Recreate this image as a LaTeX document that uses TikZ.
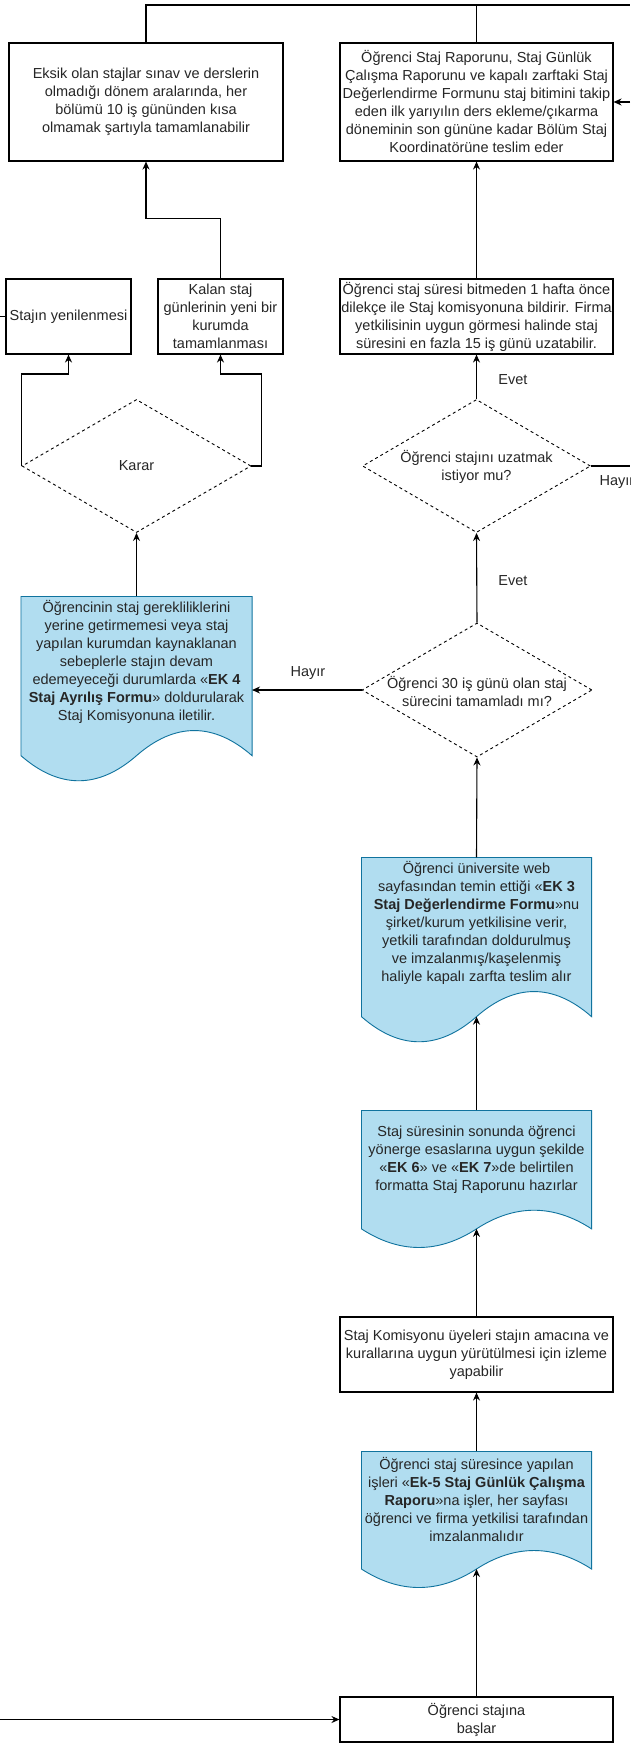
\documentclass[tikz,border=0pt]{standalone}
\usepackage{fontspec}
\setmainfont{Liberation Sans}
\usetikzlibrary{arrows.meta,shapes}
\definecolor{belgemavi}{HTML}{B1DDF0}
\definecolor{belgekenar}{HTML}{10739E}
\tikzstyle{akisstil}=[
    x=1pt, y=-1pt,
    >={Stealth[length=8pt,width=7pt]},
    line width=1.1pt,
    font=\fontsize{14.5pt}{18pt}\selectfont,
    text=black!85,
]
\tikzstyle{kutu}=[draw, rectangle, inner sep=0pt, align=center]
\tikzstyle{karar}=[draw, diamond, inner sep=0pt, line width=0.9pt,
    dash pattern=on 3pt off 3pt]
\tikzstyle{yazi}=[inner sep=0pt, align=center]
\tikzstyle{belgealan}=[rectangle, inner sep=0pt]
\tikzstyle{belgestil}=[fill=belgemavi, draw=belgekenar, line width=0.9pt]
% belge: ad, orta x, ust y, genislik, yukseklik, metin
\newcommand{\belge}[6]{%
    \node[belgealan, minimum width=#4, minimum height=0.85*#5] (#1) at (#2, #3+0.425*#5) {};
    \filldraw[belgestil] (#1.north west) -- (#1.north east) -- (#1.south east)
        .. controls +(-#4/6, -0.18*#5) and +(#4/6, -0.18*#5) .. (#1.south)
        .. controls +(-#4/6, 0.18*#5) and +(#4/6, 0.18*#5) .. (#1.south west) -- cycle;
    \node[yazi] (#1-yazi) at (#2, #3+0.35*#5) {#6};
}

\begin{document}
\begin{tikzpicture}[akisstil]
        \path[use as bounding box, fill=white] (0,0) rectangle (630,1745);
        % ust sira
        \node[kutu, minimum width=274, minimum height=118] (eksik) at (146,102)
            {Eksik olan stajlar sınav ve derslerin\\olmadığı dönem aralarında, her\\bölümü 10 iş gününden kısa\\olmamak şartıyla tamamlanabilir};
        \node[kutu, minimum width=273, minimum height=118] (rapor) at (476.5,102)
            {Öğrenci Staj Raporunu, Staj Günlük\\Çalışma Raporunu ve kapalı zarftaki Staj\\Değerlendirme Formunu staj bitimini takip\\eden ilk yarıyılın ders ekleme/çıkarma\\döneminin son gününe kadar Bölüm Staj\\Koordinatörüne teslim eder};
        \node[kutu, minimum width=125, minimum height=75] (yenile) at (68.5,316.5) {Stajın yenilenmesi};
        \node[kutu, minimum width=125, minimum height=75] (kalan) at (220.5,316.5)
            {Kalan staj\\günlerinin yeni bir\\kurumda\\tamamlanması};
        \node[kutu, minimum width=273, minimum height=75] (uzatma) at (476.5,316.5)
            {Öğrenci staj süresi bitmeden 1 hafta önce\\dilekçe ile Staj komisyonuna bildirir. Firma\\yetkilisinin uygun görmesi halinde staj\\süresini en fazla 15 iş günü uzatabilir.};
        % kararlar
        \node[karar, minimum width=229, minimum height=133] (kararsol) at (136.5,466) {};
        \node[yazi] (kararsol-yazi) at (136.5,466) {Karar};
        \node[karar, minimum width=228, minimum height=133] (soru1) at (476.5,466) {};
        \node[yazi] (soru1-yazi) at (476.5,467) {Öğrenci stajını uzatmak\\istiyor mu?};
        \node[karar, minimum width=230, minimum height=134] (soru2) at (477,690) {};
        \node[yazi] (soru2-yazi) at (477,691) {Öğrenci 30 iş günü olan staj\\sürecini tamamladı mı?};
        % belgeler
        \belge{ayrilis}{136.5}{597}{230}{186}{Öğrencinin staj gerekliliklerini\\yerine getirmemesi veya staj\\yapılan kurumdan kaynaklanan\\sebeplerle stajın devam\\edemeyeceği durumlarda «\textbf{EK 4}\\\textbf{Staj Ayrılış Formu}» doldurularak\\Staj Komisyonuna iletilir.}
        \belge{ekuc}{476.5}{858}{229}{186}{Öğrenci üniversite web\\sayfasından temin ettiği «\textbf{EK 3}\\\textbf{Staj Değerlendirme Formu}»nu\\şirket/kurum yetkilisine verir,\\yetkili tarafından doldurulmuş\\ve imzalanmış/kaşelenmiş\\haliyle kapalı zarfta teslim alır}
        \belge{ekalti}{476.5}{1111}{229}{138}{Staj süresinin sonunda öğrenci\\yönerge esaslarına uygun şekilde\\«\textbf{EK 6}» ve «\textbf{EK 7}»de belirtilen\\formatta Staj Raporunu hazırlar}
        \node[kutu, minimum width=273, minimum height=75] (komisyon) at (476.5,1354.5)
            {Staj Komisyonu üyeleri stajın amacına ve\\kurallarına uygun yürütülmesi için izleme\\yapabilir};
        \belge{ekbes}{476.5}{1452}{229}{137}{Öğrenci staj süresince yapılan\\işleri «\textbf{Ek-5 Staj Günlük Çalışma}\\\textbf{Raporu}»na işler, her sayfası\\öğrenci ve firma yetkilisi tarafından\\imzalanmalıdır}
        \node[kutu, minimum width=273, minimum height=45] (baslar) at (476.5,1719.5)
            {Öğrenci stajına\\başlar};
        % kenar noktalari
        \coordinate (sagust) at (630,5);
        \coordinate (sagrapor) at (630,102);
        \coordinate (sagorta) at (630,466);
        \coordinate (solust) at (0,316.5);
        \coordinate (solalt) at (0,1719.5);
        % baglantilar
        \draw (eksik.north) |- (sagust);
        \draw (rapor.north) -- (rapor.north |- sagust);
        \draw[->] (sagrapor) -- (rapor.east);
        \draw[->] (uzatma.north) -- (rapor.south);
        \draw[->] (soru1.north) -- (uzatma.south);
        \draw[->] (soru2.north) -- (soru1.south);
        \draw (soru1.east) -- (sagorta);
        \draw[->] (soru2.west) -- (soru2.west -| ayrilis.east);
        \draw[->] (ekuc.north) -- (soru2.south);
        \draw[->] (ekalti.north) -- (ekuc.south);
        \draw[->] (komisyon.north) -- (ekalti.south);
        \draw[->] (ekbes.north) -- (komisyon.south);
        \draw[->] (baslar.north) -- (ekbes.south);
        \draw[->] (solalt) -- (baslar.west);
        \draw (yenile.west) -- (solust);
        \draw[->] (ayrilis.north) -- (kararsol.south);
        \draw[->] (kararsol.west) -- ++(0,-92) -| (yenile.south);
        \draw[->] (kararsol.east) -- ++(10,0) -- ++(0,-92) -| (kalan.south);
        \draw[->] (kalan.north) -- ++(0,-60) -| (eksik.south);
        % etiketler
        \node[yazi] (evet1) at (513,380) {Evet};
        \node[yazi] (evet2) at (513,581) {Evet};
        \node[yazi] (hayir1) at (308,673) {Hayır};
        \node[yazi] (hayir2) at (617,482) {Hayır};
    \end{tikzpicture}
\end{document}
